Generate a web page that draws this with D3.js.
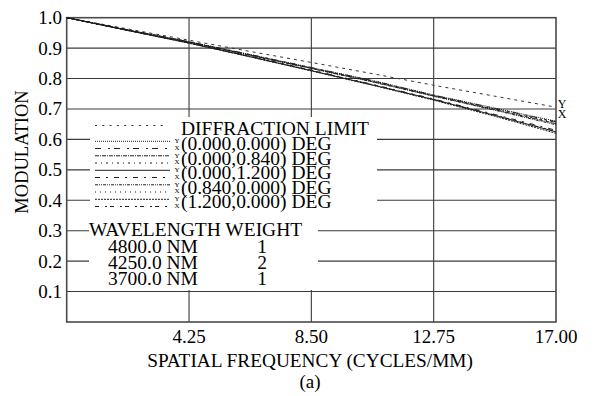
<!DOCTYPE html>
<html><head><meta charset="utf-8">
<script src="https://cdn.jsdelivr.net/npm/d3@7"></script>
<style>
html,body{margin:0;padding:0;background:#fff;}
svg{display:block;}
text{font-family:"Liberation Serif","Times New Roman",serif;fill:#000;}
</style></head>
<body><svg id="c" width="594" height="396"></svg>
<script>
// ---- data ----
const freq = [0, 2.125, 4.25, 6.375, 8.5, 10.625, 12.75, 14.875, 17];
const diffraction = [1.0, 0.963, 0.926, 0.889, 0.853, 0.816, 0.778, 0.742, 0.706];
const y000 = [1.0, 0.960, 0.921, 0.879, 0.836, 0.794, 0.746, 0.703, 0.660];
const x000 = [1.0, 0.960, 0.921, 0.879, 0.836, 0.793, 0.745, 0.702, 0.658];
const y0084 = [1.0, 0.959, 0.920, 0.877, 0.834, 0.790, 0.743, 0.698, 0.652];
const x0084 = [1.0, 0.960, 0.921, 0.878, 0.835, 0.792, 0.745, 0.700, 0.656];
const y0120 = [1.0, 0.958, 0.917, 0.872, 0.826, 0.779, 0.731, 0.679, 0.625];
const x0120 = [1.0, 0.958, 0.918, 0.873, 0.828, 0.781, 0.733, 0.682, 0.630];
const y0840 = [1.0, 0.959, 0.920, 0.876, 0.833, 0.789, 0.742, 0.696, 0.648];
const x0840 = [1.0, 0.960, 0.920, 0.877, 0.834, 0.790, 0.744, 0.699, 0.654];
const y1200 = [1.0, 0.958, 0.916, 0.871, 0.825, 0.778, 0.729, 0.676, 0.620];
const x1200 = [1.0, 0.958, 0.917, 0.872, 0.827, 0.780, 0.731, 0.680, 0.626];
const fieldLabels = ["(0.000,0.000) DEG", "(0.000,0.840) DEG", "(0.000,1.200) DEG", "(0.840,0.000) DEG", "(1.200,0.000) DEG"];
const yTicks = [0.1, 0.2, 0.3, 0.4, 0.5, 0.6, 0.7, 0.8, 0.9, 1.0];
const xTicks = [4.25, 8.50, 12.75, 17.00];
const wavelengths = ["4800.0 NM", "4250.0 NM", "3700.0 NM"];
const weights = ["1", "2", "1"];

// ---- styles ----
const ink = "#1e1e1e";
const dashY = ["1,1", "4,1,1,1", "none", "3,1,1,1,1,1", "2,1"];
const dashX = ["6,7,2,4", "2,4,1,4", "5,6,2,6", "1,4,1,4", "4,6,2,3"];
const fieldY = [y000, y0084, y0120, y0840, y1200];
const fieldX = [x000, x0084, x0120, x0840, x1200];

const svg = d3.select("#c");
const x = d3.scaleLinear().domain([0, 17]).range([66.7, 556]);
const y = d3.scaleLinear().domain([0, 1]).range([322, 17.7]);

// gridlines
const grid = svg.append("g").attr("stroke", "#3a3a3a").attr("stroke-width", 1.1);
grid.selectAll("line.h").data(yTicks.filter(d => d < 1)).join("line")
  .attr("x1", x(0)).attr("x2", x(17)).attr("y1", d => y(d)).attr("y2", d => y(d));
grid.selectAll("line.v").data(xTicks.filter(d => d < 17)).join("line")
  .attr("x1", d => x(d)).attr("x2", d => x(d)).attr("y1", y(0)).attr("y2", y(1));

// legend background boxes
svg.append("rect").attr("x", 90).attr("y", 117).attr("width", 287).attr("height", 99).attr("fill", "#fff");
svg.append("rect").attr("x", 89).attr("y", 216).attr("width", 229).attr("height", 74).attr("fill", "#fff");

// border
svg.append("rect").attr("x", x(0)).attr("y", y(1)).attr("width", x(17) - x(0)).attr("height", y(0) - y(1))
  .attr("fill", "none").attr("stroke", "#4a4a4a").attr("stroke-width", 1.6);

// curves
const line = d3.line().x((d, i) => x(freq[i])).y(d => y(d));
const curves = svg.append("g").attr("fill", "none").attr("stroke", ink).attr("stroke-width", 1);
curves.append("path").datum(diffraction).attr("d", line).attr("stroke-dasharray", "3,4").attr("stroke", "#333");
fieldY.forEach((s, i) => {
  curves.append("path").datum(s).attr("d", line).attr("stroke-dasharray", dashY[i]);
  curves.append("path").datum(fieldX[i]).attr("d", line).attr("stroke-dasharray", dashX[i]);
});

// end labels
svg.append("text").attr("x", 562).attr("y", 104).attr("text-anchor", "middle").attr("dominant-baseline", "central")
  .attr("font-size", 12).text("Y");
svg.append("text").attr("x", 562).attr("y", 113.5).attr("text-anchor", "middle").attr("dominant-baseline", "central")
  .attr("font-size", 12).text("X");

// axis tick labels
svg.selectAll("text.yt").data(yTicks).join("text")
  .attr("x", 62).attr("y", d => y(d)).attr("text-anchor", "end").attr("dominant-baseline", "central")
  .attr("font-size", 19).text(d => d.toFixed(1));
svg.selectAll("text.xt").data(xTicks).join("text")
  .attr("x", d => x(d)).attr("y", 342.5).attr("text-anchor", "middle")
  .attr("font-size", 19).text(d => d.toFixed(2));

// axis titles
svg.append("text").attr("x", 310).attr("y", 366.5).attr("text-anchor", "middle").attr("font-size", 19.3)
  .text("SPATIAL FREQUENCY (CYCLES/MM)");
svg.append("text").attr("transform", "translate(28,152) rotate(-90)").attr("text-anchor", "middle").attr("font-size", 18.5)
  .text("MODULATION");
svg.append("text").attr("x", 310).attr("y", 388).attr("text-anchor", "middle").attr("font-size", 19).text("(a)");

// legend
const lg = svg.append("g");
lg.append("line").attr("x1", 95).attr("x2", 168).attr("y1", 125.5).attr("y2", 125.5)
  .attr("stroke", "#333").attr("stroke-dasharray", "2,5.3");
lg.append("text").attr("x", 181).attr("y", 135).attr("font-size", 19.5).text("DIFFRACTION LIMIT");
const base = [150, 164.5, 179, 193.5, 208];
fieldLabels.forEach((lab, i) => {
  const b = base[i];
  lg.append("line").attr("x1", 95).attr("x2", 170).attr("y1", b - 8.7).attr("y2", b - 8.7)
    .attr("stroke", ink).attr("stroke-dasharray", dashY[i]);
  lg.append("line").attr("x1", 95).attr("x2", 170).attr("y1", b - 1.5).attr("y2", b - 1.5)
    .attr("stroke", ink).attr("stroke-dasharray", dashX[i]);
  lg.append("text").attr("x", 177).attr("y", b - 9).attr("text-anchor", "middle").attr("dominant-baseline", "central")
    .attr("font-size", 7).text("Y");
  lg.append("text").attr("x", 177).attr("y", b - 2.5).attr("text-anchor", "middle").attr("dominant-baseline", "central")
    .attr("font-size", 7).text("X");
  lg.append("text").attr("x", 181).attr("y", b).attr("font-size", 19.5).text(lab);
});
lg.append("text").attr("x", 89).attr("y", 236).attr("font-size", 19.5).text("WAVELENGTH WEIGHT");
wavelengths.forEach((w, i) => {
  const b = 253 + i * 16;
  lg.append("text").attr("x", 108).attr("y", b).attr("font-size", 19.5).text(w);
  lg.append("text").attr("x", 262).attr("y", b).attr("text-anchor", "middle").attr("font-size", 19.5).text(weights[i]);
});
</script></body></html>
